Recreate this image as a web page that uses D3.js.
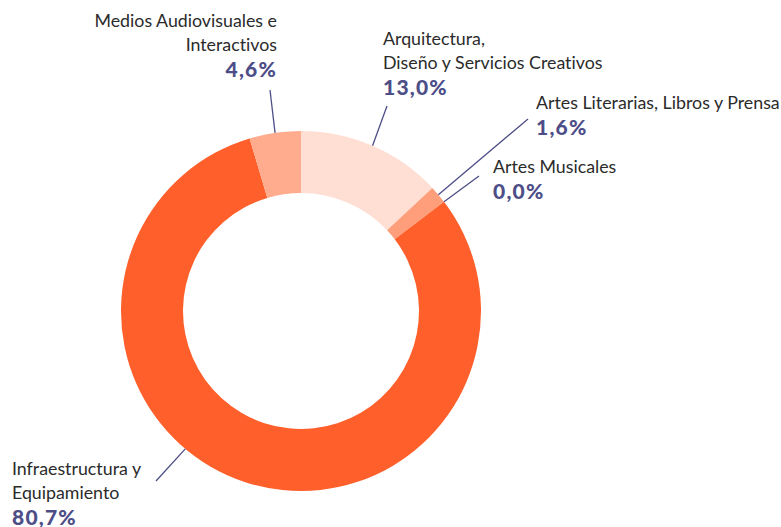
<!DOCTYPE html>
<html>
<head>
<meta charset="utf-8">
<script src="https://cdn.jsdelivr.net/npm/d3@7"></script>
<style>
  body { margin: 0; background: #fff; }
  svg text { font-family: Lato, "Noto Sans", sans-serif; font-variant-ligatures: none; }
  .lbl { fill: #2b2b2b; font-size: 17.8px; }
  .pct { fill: #4d4e87; font-size: 21px; font-weight: 900; letter-spacing: 1.2px; }
</style>
</head>
<body>
<svg id="chart" width="781" height="527"></svg>
<script>
// categories and shares (%), in drawing order clockwise from 12 o'clock
var categories = ["Arquitectura, Diseño y Servicios Creativos", "Artes Literarias, Libros y Prensa",
  "Artes Musicales", "Infraestructura y Equipamiento", "Medios Audiovisuales e Interactivos"];
var values = [13.0, 1.6, 0.0, 80.7, 4.6];
var labelLines = [
  ["Arquitectura,", "Diseño y Servicios Creativos"],
  ["Artes Literarias, Libros y Prensa"],
  ["Artes Musicales"],
  ["Infraestructura y", "Equipamiento"],
  ["Medios Audiovisuales e", "Interactivos"]
];
var colors = ["#ffded3", "#ff9e7a", "#ff5f2a", "#ff5f2a", "#ffac8e"];

var svg = d3.select("#chart");
var cx = 301, cy = 311, outerR = 180, innerR = 118;

// label layout: text anchor point, leader end point, optional angle on ring
var layout = [
  {x: 383, y: 45, anchor: "start", lx: 387, ly: 106},
  {x: 536, y: 109, anchor: "start", lx: 528, ly: 119},
  {x: 493, y: 173, anchor: "start", lx: 479, ly: 176},
  {x: 12, y: 475, anchor: "start", lx: 156, ly: 481, angle: 220},
  {x: 277, y: 27, anchor: "end", lx: 270, ly: 90}
];

var pie = d3.pie().sort(null).value(function(d) { return d; });
var arcs = pie(values);
var arc = d3.arc().innerRadius(innerR).outerRadius(outerR);

var g = svg.append("g").attr("transform", "translate(" + cx + "," + cy + ")");

g.selectAll("path.slice")
    .data(arcs)
  .enter().append("path")
    .attr("class", "slice")
    .attr("d", arc)
    .attr("fill", function(d, i) { return colors[i]; });

// leader lines
arcs.forEach(function(d, i) {
  var L = layout[i];
  var a = L.angle != null ? L.angle * Math.PI / 180 : (d.startAngle + d.endAngle) / 2;
  var x0 = cx + outerR * Math.sin(a), y0 = cy - outerR * Math.cos(a);
  svg.append("line")
    .attr("x1", x0).attr("y1", y0)
    .attr("x2", L.lx).attr("y2", L.ly)
    .attr("stroke", "#4d4e87")
    .attr("stroke-width", 1.3);
});

var fmt = function(v) { return d3.format(".1f")(v).replace(".", ",") + "%"; };

labelLines.forEach(function(lines, i) {
  var L = layout[i];
  var t = svg.append("g");
  lines.forEach(function(s, j) {
    t.append("text")
      .attr("class", "lbl")
      .attr("x", L.x)
      .attr("y", L.y + j * 24)
      .attr("text-anchor", L.anchor)
      .text(s);
  });
  t.append("text")
    .attr("class", "pct")
    .attr("x", L.x)
    .attr("y", L.y + (lines.length - 1) * 24 + 26)
    .attr("text-anchor", L.anchor)
    .text(fmt(values[i]));
});
</script>
</body>
</html>
